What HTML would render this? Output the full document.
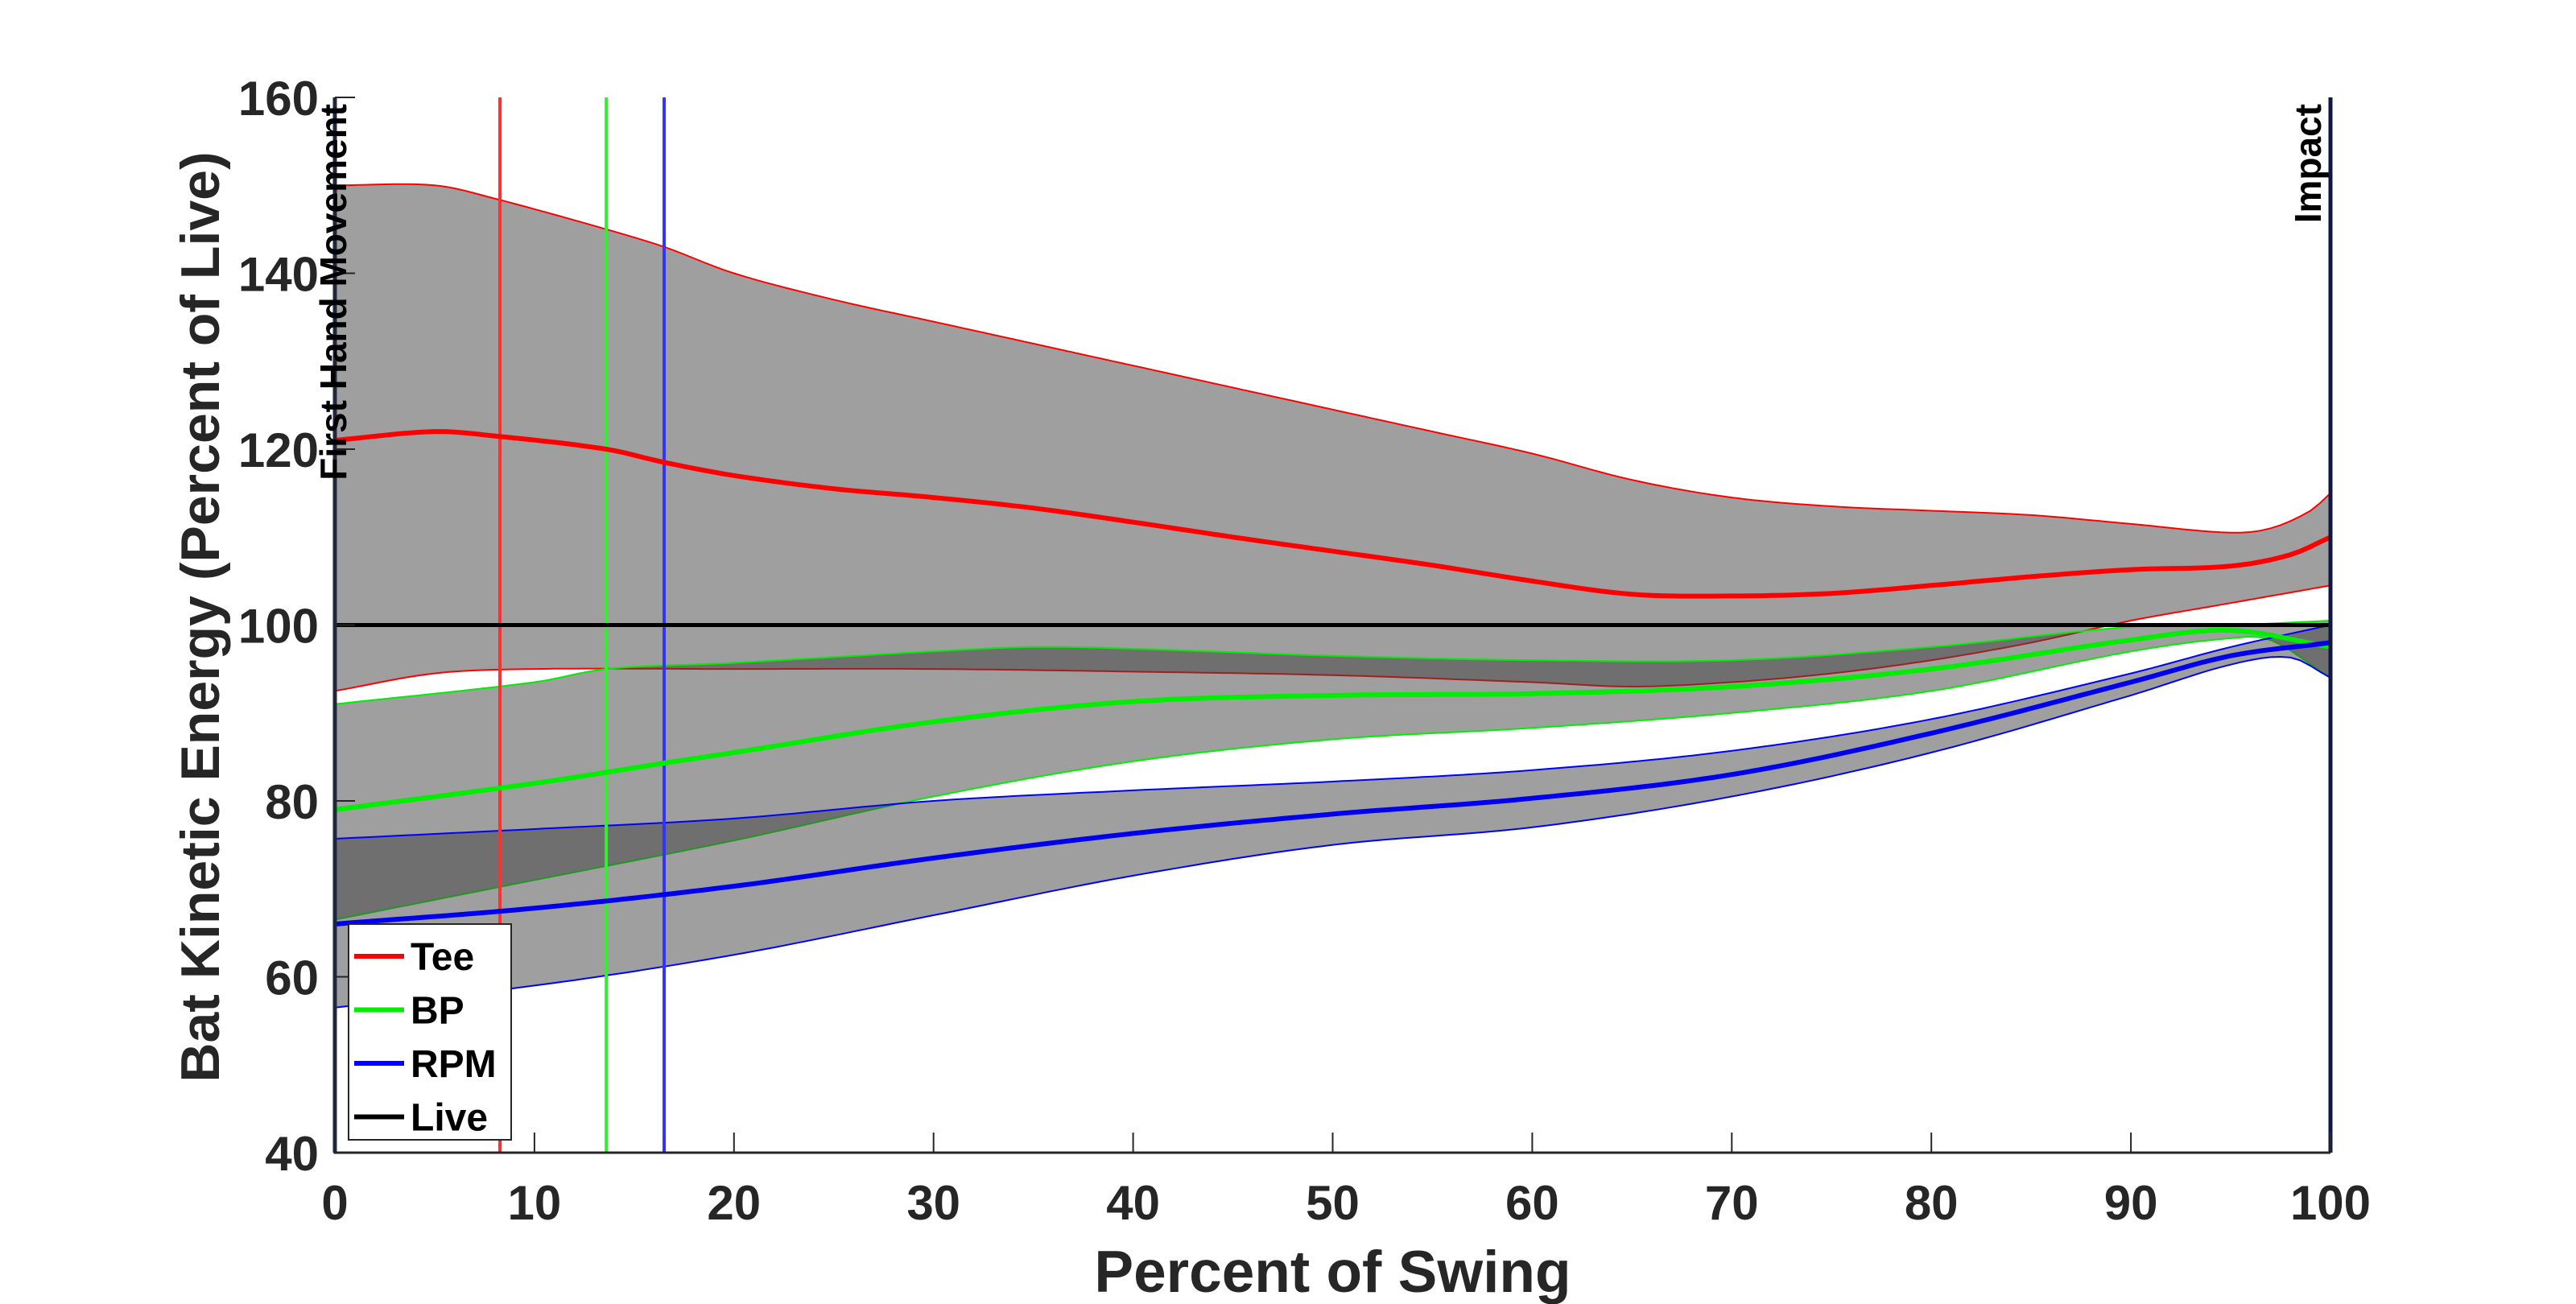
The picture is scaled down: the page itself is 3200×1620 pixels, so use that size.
<!DOCTYPE html>
<html><head><meta charset="utf-8"><style>
body{margin:0;background:#fff}
svg{display:block;font-family:"Liberation Sans",sans-serif;font-weight:bold}
</style></head><body>
<svg id="chart" width="3200" height="1620" xmlns="http://www.w3.org/2000/svg"></svg>
<script>
const xTicks=[0,10,20,30,40,50,60,70,80,90,100];
const yTicks=[40,60,80,100,120,140,160];
const teeUpX=[0,5,8,13.6,16.5,20,25,30,35,40,45,50,55,60,65,70,75,80,85,90,95,97,99,100];
const teeUp=[150,150,148.5,145,143,140,137,134.5,132,129.5,127,124.5,122,119.5,116.5,114.5,113.5,113,112.5,111.5,110.5,111,113,115];
const teeMeanX=[0,5,8,13.6,16.5,20,25,30,35,40,45,50,55,60,65,70,75,80,85,90,95,98,100];
const teeMean=[121,122,121.5,120,118.5,117,115.5,114.5,113.3,111.7,110,108.4,106.8,105,103.5,103.3,103.6,104.5,105.5,106.3,106.7,108,110];
const teeLoX=[0,5,10,20,30,40,50,60,65,70,75,80,85,90,95,100];
const teeLo=[92.5,94.5,95,95,95,94.7,94.3,93.5,93,93.5,94.5,96,98,100.5,102.5,104.5];
const bpUpX=[0,10,13.6,20,30,35,40,50,60,70,80,90,95,100];
const bpUp=[91,93.5,95,95.7,97,97.5,97.3,96.5,96,96,97.5,99.8,100,100.5];
const bpMeanX=[0,10,16.5,20,30,40,50,60,70,80,90,95,100];
const bpMean=[79,82,84.3,85.5,89,91.3,92,92.2,93,95,98.3,99.4,97.5];
const bpLoX=[0,10,20,30,40,50,60,70,80,90,95,97,100];
const bpLo=[66.5,71,75.5,80.5,84.5,87,88.3,90,92.5,97,98.5,98.3,94];
const rpmUpX=[0,10,20,30,40,50,60,70,80,90,95,100];
const rpmUp=[75.7,76.8,78,80,81.2,82.2,83.5,85.7,89.3,94.5,97.5,100];
const rpmMeanX=[0,10,20,30,40,50,60,70,80,90,95,100];
const rpmMean=[66,67.8,70.3,73.5,76.3,78.5,80.3,83,87.7,93.5,96.5,98];
const rpmLoX=[0,10,20,30,40,50,60,70,80,90,95,98,100];
const rpmLo=[56.5,59,62.5,67,71.5,75,77,80.5,85.5,92,95.5,96.3,94];
const liveValue=[100];
const markerNames=["tee","bp","rpm"];
const markerX=[8.27,13.6,16.5];
const markerColors=["#ff3030","#33ee33","#3333ff"];

const L=416,R=2895,T=121,B=1432;
const sx=v=>L+(v-0)/(100-0)*(R-L);
const sy=v=>B-(v-40)/(160-40)*(B-T);
const NS="http://www.w3.org/2000/svg";
const svg=document.getElementById('chart');
function mk(tag,attrs,parent){const e=document.createElementNS(NS,tag);for(const k in attrs)e.setAttribute(k,attrs[k]);(parent||svg).appendChild(e);return e;}
function interp(xs,ys,x){
  const n=xs.length;
  for(let i=0;i<n-1;i++){
    if(x>=xs[i]&&x<=xs[i+1]){
      const h=xs[i+1]-xs[i],t=(x-xs[i])/h;
      const m0=i>0?(ys[i+1]-ys[i-1])/(xs[i+1]-xs[i-1]):(ys[i+1]-ys[i])/h;
      const m1=i<n-2?(ys[i+2]-ys[i])/(xs[i+2]-xs[i]):(ys[i+1]-ys[i])/h;
      const t2=t*t,t3=t2*t;
      return (2*t3-3*t2+1)*ys[i]+(t3-2*t2+t)*h*m0+(-2*t3+3*t2)*ys[i+1]+(t3-t2)*h*m1;
    }
  }
  return ys[n-1];
}
function pts(xs,ys){const p=[];for(let x=0;x<=100.0001;x+=0.5)p.push([sx(x),sy(interp(xs,ys,x))]);return p;}
function d(p){return p.map((q,i)=>(i?'L':'M')+q[0].toFixed(1)+' '+q[1].toFixed(1)).join(' ');}

const bands=[["tee",teeUpX,teeUp,teeLoX,teeLo,"#ff0000"],["bp",bpUpX,bpUp,bpLoX,bpLo,"#00ee00"],["rpm",rpmUpX,rpmUp,rpmLoX,rpmLo,"#0000ff"]];
bands.forEach(b=>{
  const up=pts(b[1],b[2]),lo=pts(b[3],b[4]);
  const poly=up.concat(lo.slice().reverse());
  const area=mk('path',{d:d(poly)+'Z',fill:'#404040','fill-opacity':0.5,stroke:'none'});
  
  
  const u=mk('path',{d:d(up),fill:'none',stroke:b[5],'stroke-width':2});
  
  
  const l=mk('path',{d:d(lo),fill:'none',stroke:b[5],'stroke-width':2});
  
  
});
markerX.forEach((v,i)=>{
  const ln=mk('line',{x1:sx(v),x2:sx(v),y1:T,y2:B,stroke:markerColors[i],'stroke-width':4});
  
  
});
const live=mk('line',{x1:sx(0),x2:sx(100),y1:sy(liveValue[0]),y2:sy(liveValue[0]),stroke:'#000','stroke-width':5});


[["tee",teeMeanX,teeMean,"#ff0000"],["bp",bpMeanX,bpMean,"#00ee00"],["rpm",rpmMeanX,rpmMean,"#0000ee"]].forEach(s=>{
  const p=mk('path',{d:d(pts(s[1],s[2])),fill:'none',stroke:s[3],'stroke-width':6});
  
  
});
const e1=mk('line',{x1:L,x2:L,y1:T,y2:B,stroke:'#1a2a6a','stroke-width':5});


const e2=mk('line',{x1:R,x2:R,y1:T,y2:B,stroke:'#101840','stroke-width':5});


const ax=mk('path',{d:`M${L} ${T}V${B}H${R}`,fill:'none',stroke:'#262626','stroke-width':3});


xTicks.forEach(v=>{
  const t=mk('line',{x1:sx(v),x2:sx(v),y1:B,y2:B-25,stroke:'#262626','stroke-width':2});
  
  
  const tx=mk('text',{x:sx(v),y:B+83,'text-anchor':'middle','font-size':60,fill:'#262626'});
  tx.textContent=v;
  
  
});
yTicks.forEach(v=>{
  const t=mk('line',{x1:L,x2:L+25,y1:sy(v),y2:sy(v),stroke:'#262626','stroke-width':2});
  
  
  const tx=mk('text',{x:L-20,y:sy(v)+22,'text-anchor':'end','font-size':60,fill:'#262626'});
  tx.textContent=v;
  
  
});
const xt=mk('text',{x:(L+R)/2,y:1605,'text-anchor':'middle','font-size':73,fill:'#262626'});
xt.textContent='Percent of Swing';


const yt=mk('text',{x:0,y:0,'text-anchor':'middle','font-size':68,fill:'#262626',transform:`translate(272 ${(T+B)/2-10}) rotate(-90)`});
yt.textContent='Bat Kinetic Energy (Percent of Live)';


const fh=mk('text',{x:0,y:0,'text-anchor':'end','font-size':46,fill:'#000',transform:`translate(${L+14} ${T+8}) rotate(-90)`});
fh.textContent='First Hand Movement';


const im=mk('text',{x:0,y:0,'text-anchor':'end','font-size':46,fill:'#000',transform:`translate(${R-12} ${T+8}) rotate(-90)`});
im.textContent='Impact';


const lg=mk('g',{});


mk('rect',{x:433,y:1148,width:202,height:268,fill:'#fff',stroke:'#262626','stroke-width':2},lg);
const legNames=["Tee","BP","RPM","Live"];
const legColors=["#ff0000","#00ee00","#0000ff","#000000"];
legNames.forEach((n,i)=>{
  const g=mk('g',{},lg);
  
  
  const y=1188+i*66.5;
  mk('line',{x1:440,x2:502,y1:y,y2:y,stroke:legColors[i],'stroke-width':6},g);
  const t=mk('text',{x:510,y:y+17,'font-size':48,fill:'#000'},g);
  t.textContent=n;
});
</script>
</body></html>
